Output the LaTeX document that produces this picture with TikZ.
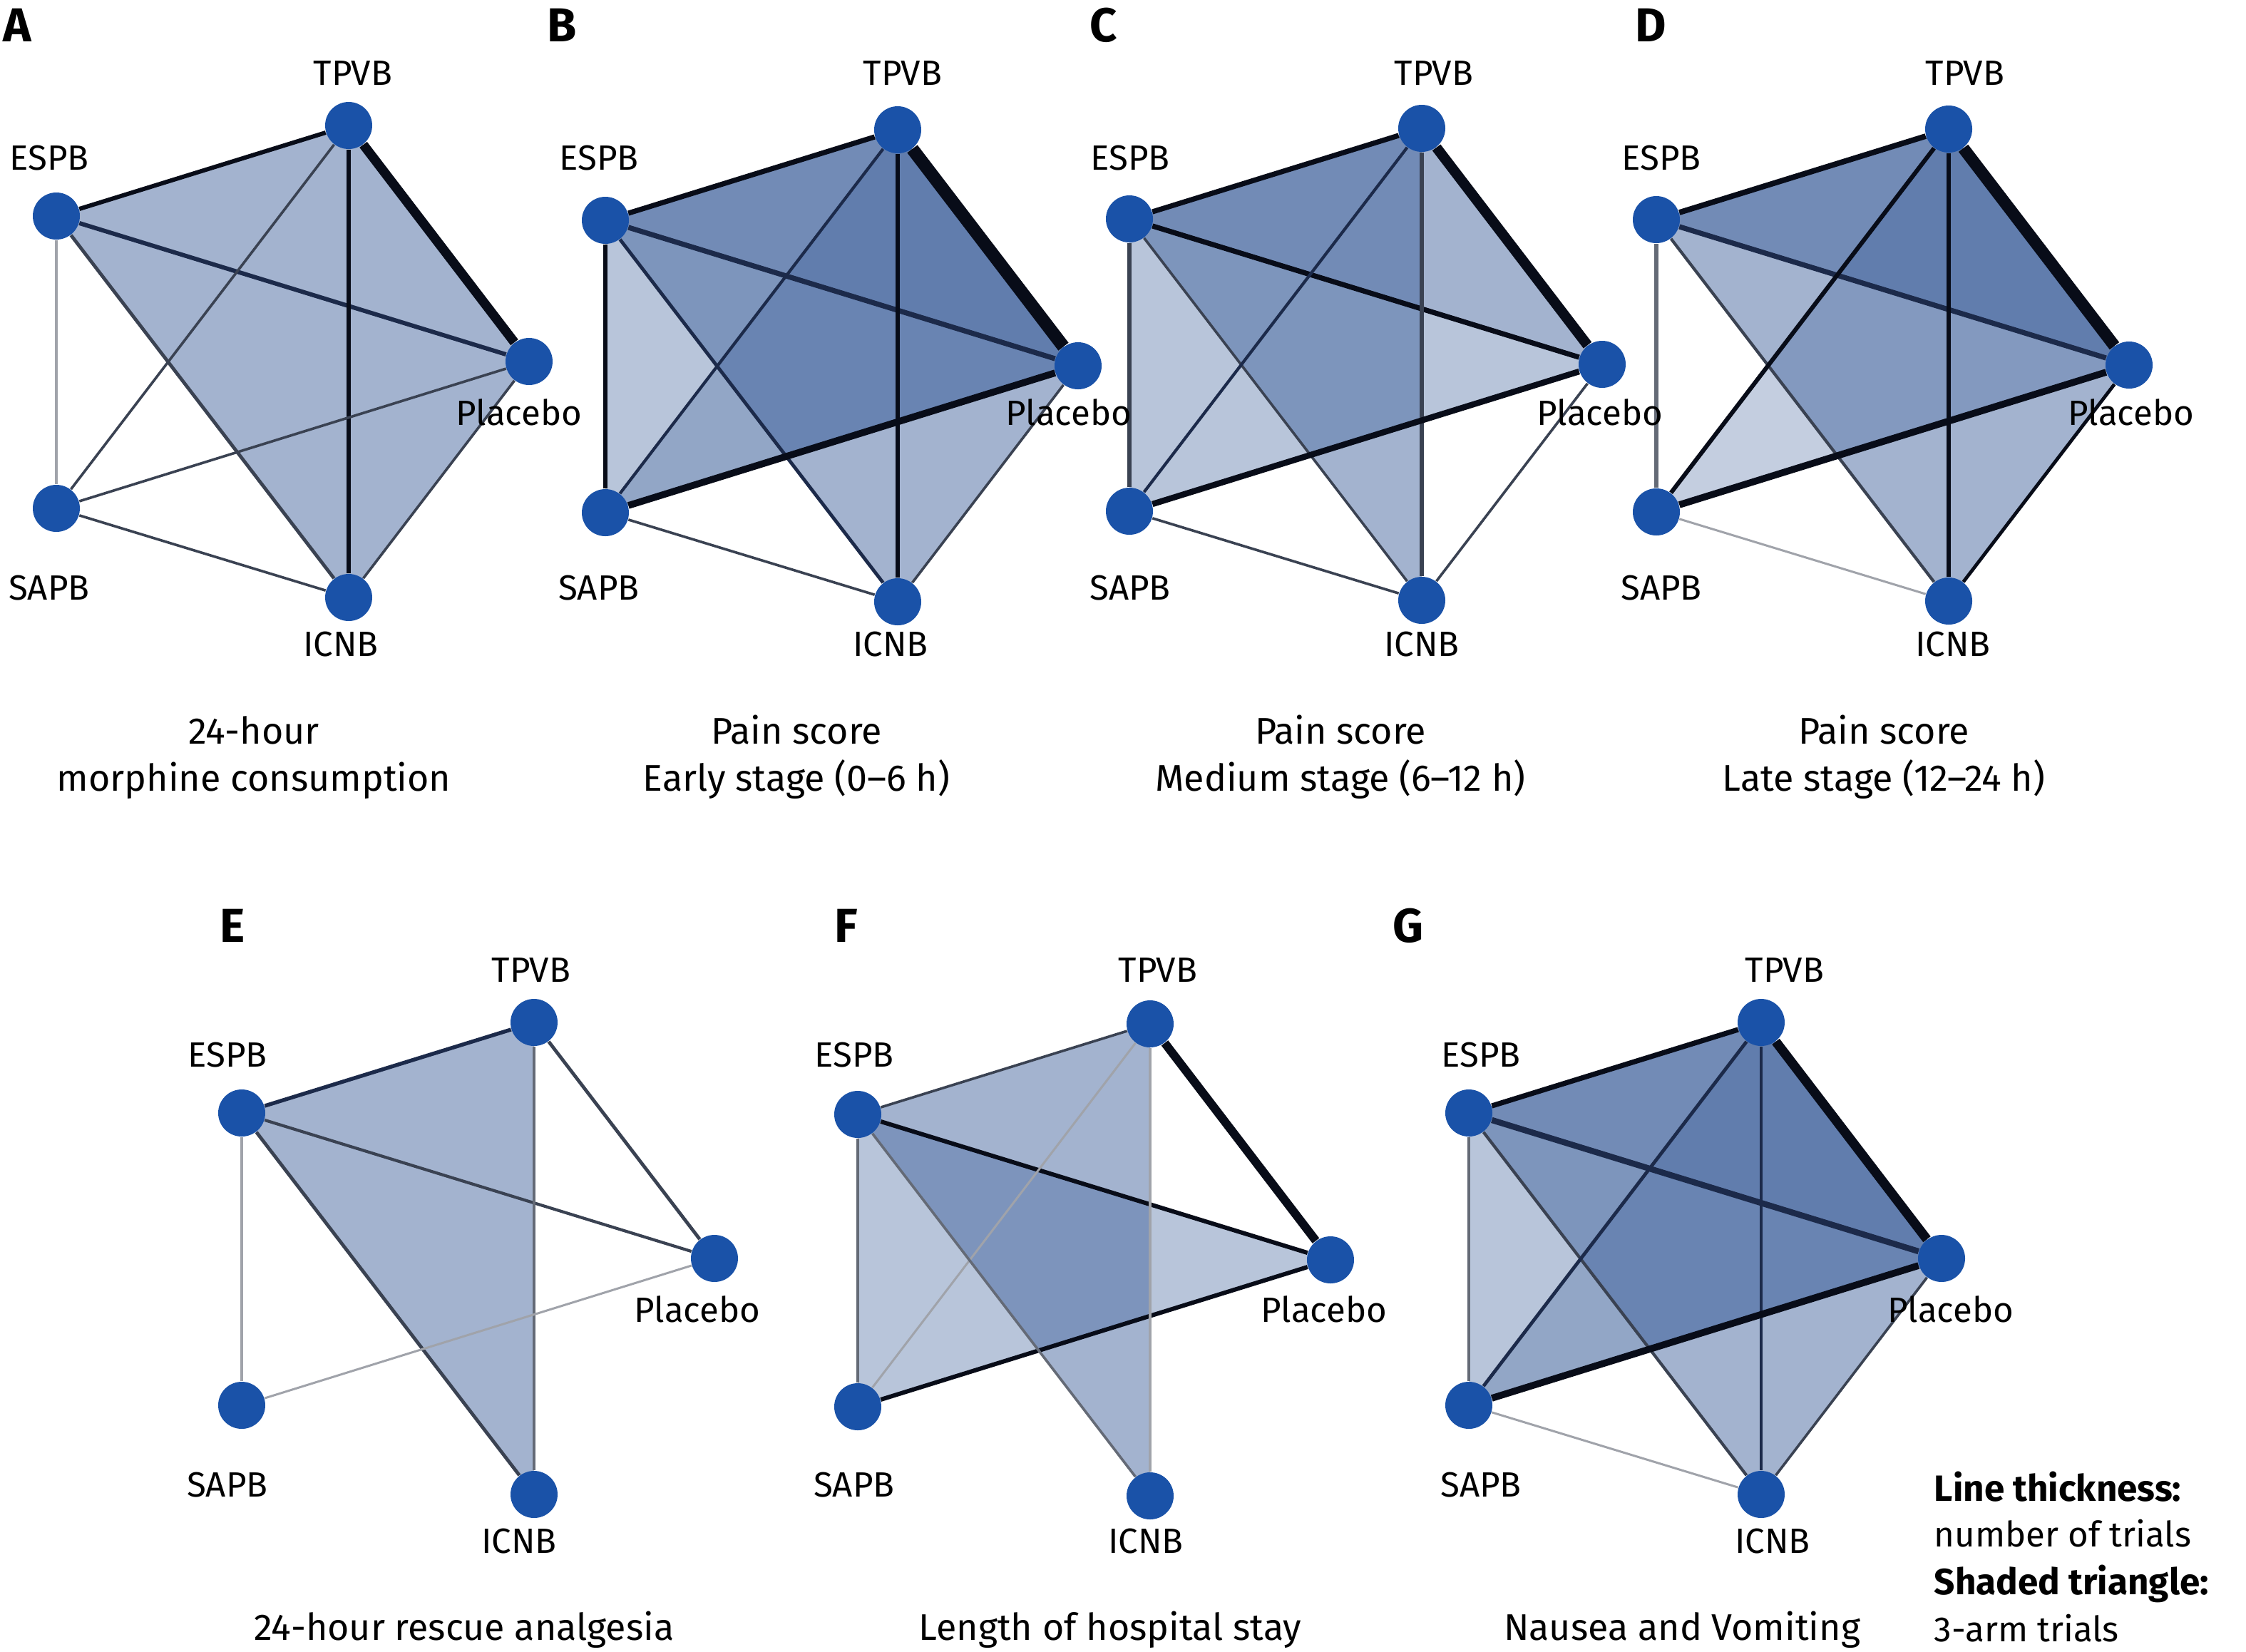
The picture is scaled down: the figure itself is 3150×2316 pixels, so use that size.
\documentclass[tikz,border=0pt]{standalone}
\usepackage{fontspec}
\setmainfont{Fira Sans}
\definecolor{nodeblue}{RGB}{26,82,168}
\definecolor{tribase}{RGB}{60,95,155}
\definecolor{ek}{RGB}{8,12,24}
\definecolor{en}{RGB}{28,42,74}
\definecolor{es}{RGB}{58,66,82}
\definecolor{eg}{RGB}{100,106,118}
\definecolor{el}{RGB}{160,163,170}
\pgfdeclarelayer{tri}
\pgfdeclarelayer{edges}
\pgfsetlayers{tri,edges,main}
\tikzset{
  bnode/.style={circle, fill=nodeblue, draw=none, inner sep=0pt, minimum size=16.5pt},
  lbl/.style={anchor=base, inner sep=0pt, font=\fontsize{12.3}{14}\selectfont},
  capt/.style={anchor=base, inner sep=0pt, font=\fontsize{13}{15}\selectfont},
  letter/.style={anchor=base, inner sep=0pt, font=\fontsize{16.7}{18}\selectfont\bfseries},
  leg/.style={anchor=base west, inner sep=0pt, font=\fontsize{12.3}{14}\selectfont},
  legb/.style={leg, font=\fontsize{12.8}{14}\selectfont\bfseries},
  edge/.style 2 args={draw=#2, line width=#1*0.3pt},
  shade/.style={fill=tribase, fill opacity=#1}
}
\newcommand\pnodes[3]{%
  \node[bnode] (#1E) at (#2,#3) {};
  \node[bnode] (#1T) at (#2+410,#3-127) {};
  \node[bnode] (#1P) at (#2+663,#3+204) {};
  \node[bnode] (#1S) at (#2,#3+410) {};
  \node[bnode] (#1I) at (#2+410,#3+535) {};
}
\newcommand\plabels[4]{%
  \node[lbl] (#1Tl) at (#2+416+#4,#3-184) {TPVB};
  \node[lbl] (#1El) at (#2-10+#4,#3-65) {ESPB};
  \node[lbl] (#1Pl) at (#2+649+#4,#3+293) {Placebo};
  \node[lbl] (#1Sl) at (#2-10+#4,#3+538) {SAPB};
  \node[lbl] (#1Il) at (#2+399+#4,#3+617) {ICNB};
}
\newcommand\ptri[5]{\fill[shade=#5] (#1#2.center) -- (#1#3.center) -- (#1#4.center) -- cycle;}
\newcommand\ped[5]{\draw[edge={#4}{#5}] (#1#2) -- (#1#3);}
\begin{document}
\begin{tikzpicture}[x=0.25pt,y=-0.25pt]
\useasboundingbox (0,0) rectangle (3150,2316);
% nodes
\pnodes{A}{79}{303}
\pnodes{B}{849}{309}
\pnodes{C}{1584}{307}
\pnodes{D}{2323}{308}
\pnodes{E}{339}{1561}
\pnodes{F}{1203}{1563}
\pnodes{G}{2060}{1561}
% node labels
\plabels{A}{79}{303}{0}
\plabels{B}{849}{303}{1}
\plabels{C}{1584}{303}{11}
\plabels{D}{2323}{303}{17}
\plabels{E}{339}{1561}{-10}
\plabels{F}{1203}{1561}{5}
\plabels{G}{2060}{1561}{27}
% panel letters
\node[letter] (LA) at (24,58) {A};
\node[letter] (LB) at (788,58) {B};
\node[letter] (LC) at (1548,58) {C};
\node[letter] (LD) at (2315,58) {D};
\node[letter] (LE) at (326,1321) {E};
\node[letter] (LF) at (1187,1321) {F};
\node[letter] (LG) at (1975,1321) {G};
% captions
\node[capt] (cA1) at (356,1043) {24-hour};
\node[capt] (cA2) at (356,1109) {morphine consumption};
\node[capt] (cB1) at (1117,1043) {Pain score};
\node[capt] (cB2) at (1117,1109) {Early stage (0–6 h)};
\node[capt] (cC1) at (1880,1043) {Pain score};
\node[capt] (cC2) at (1880,1109) {Medium stage (6–12 h)};
\node[capt] (cD1) at (2642,1043) {Pain score};
\node[capt] (cD2) at (2642,1109) {Late stage (12–24 h)};
\node[capt] (cE) at (651,2300) {24-hour rescue analgesia};
\node[capt] (cF) at (1557,2300) {Length of hospital stay};
\node[capt] (cG) at (2359,2300) {Nausea and Vomiting};
% legend
\node[legb] (lg1) at (2712,2105) {Line thickness:};
\node[leg] (lg2) at (2712,2169) {number of trials};
\node[legb] (lg3) at (2712,2236) {Shaded triangle:};
\node[leg] (lg4) at (2712,2302) {3-arm trials};
% shaded triangles
\begin{pgfonlayer}{tri}
\fill[white] (0,0) rectangle (3150,2316);
\ptri{A}{E}{T}{I}{0.47}
\ptri{A}{T}{P}{I}{0.47}
\ptri{B}{E}{S}{P}{0.36}
\ptri{B}{E}{T}{P}{0.47}
\ptri{B}{E}{T}{I}{0.47}
\ptri{B}{T}{P}{I}{0.47}
\ptri{B}{S}{T}{P}{0.30}
\ptri{C}{E}{S}{P}{0.36}
\ptri{C}{E}{T}{P}{0.47}
\ptri{C}{E}{T}{I}{0.47}
\ptri{D}{E}{T}{P}{0.47}
\ptri{D}{E}{T}{I}{0.47}
\ptri{D}{T}{P}{I}{0.47}
\ptri{D}{S}{T}{P}{0.30}
\ptri{E}{E}{T}{I}{0.47}
\ptri{F}{E}{T}{I}{0.47}
\ptri{F}{E}{S}{P}{0.36}
\ptri{G}{E}{S}{P}{0.36}
\ptri{G}{E}{T}{P}{0.47}
\ptri{G}{E}{T}{I}{0.47}
\ptri{G}{T}{P}{I}{0.47}
\ptri{G}{S}{T}{P}{0.30}
\end{pgfonlayer}
% edges
\begin{pgfonlayer}{edges}
% A
\ped{A}{E}{T}{5}{ek}
\ped{A}{T}{P}{11}{ek}
\ped{A}{P}{I}{3}{es}
\ped{A}{I}{S}{3}{es}
\ped{A}{S}{E}{3}{el}
\ped{A}{E}{P}{5}{en}
\ped{A}{E}{I}{4}{es}
\ped{A}{S}{T}{3}{es}
\ped{A}{T}{I}{5}{ek}
\ped{A}{S}{P}{3}{es}
% B
\ped{B}{E}{T}{6}{ek}
\ped{B}{T}{P}{15}{ek}
\ped{B}{P}{I}{3}{es}
\ped{B}{I}{S}{3}{es}
\ped{B}{S}{E}{5}{ek}
\ped{B}{E}{P}{6}{en}
\ped{B}{E}{I}{4}{en}
\ped{B}{S}{T}{3.5}{en}
\ped{B}{T}{I}{4.5}{ek}
\ped{B}{S}{P}{8}{ek}
% C
\ped{C}{E}{T}{6}{ek}
\ped{C}{T}{P}{12}{ek}
\ped{C}{P}{I}{3}{es}
\ped{C}{I}{S}{3}{es}
\ped{C}{S}{E}{5}{es}
\ped{C}{E}{P}{6}{ek}
\ped{C}{E}{I}{3}{es}
\ped{C}{S}{T}{3.5}{en}
\ped{C}{T}{I}{5}{es}
\ped{C}{S}{P}{7}{ek}
% D
\ped{D}{E}{T}{6.5}{ek}
\ped{D}{T}{P}{14}{ek}
\ped{D}{P}{I}{4}{ek}
\ped{D}{I}{S}{2.5}{el}
\ped{D}{S}{E}{5}{eg}
\ped{D}{E}{P}{6}{en}
\ped{D}{E}{I}{3.5}{es}
\ped{D}{S}{T}{5}{ek}
\ped{D}{T}{I}{4.5}{ek}
\ped{D}{S}{P}{8}{ek}
% E
\ped{E}{E}{T}{4.5}{en}
\ped{E}{T}{P}{4}{es}
\ped{E}{E}{P}{3.5}{es}
\ped{E}{E}{I}{4}{es}
\ped{E}{T}{I}{3}{eg}
\ped{E}{S}{E}{3}{el}
\ped{E}{S}{P}{2.5}{el}
% F
\ped{F}{E}{T}{3}{es}
\ped{F}{T}{P}{10}{ek}
\ped{F}{E}{P}{5}{ek}
\ped{F}{S}{P}{5}{ek}
\ped{F}{S}{T}{2.5}{el}
\ped{F}{E}{I}{3}{eg}
\ped{F}{S}{E}{3}{eg}
\ped{F}{T}{I}{3}{el}
% G
\ped{G}{E}{T}{6}{ek}
\ped{G}{T}{P}{11}{ek}
\ped{G}{P}{I}{3}{es}
\ped{G}{I}{S}{2.5}{el}
\ped{G}{S}{E}{3}{eg}
\ped{G}{E}{P}{7}{en}
\ped{G}{E}{I}{3.5}{es}
\ped{G}{S}{T}{4}{en}
\ped{G}{T}{I}{4}{en}
\ped{G}{S}{P}{8}{ek}
\end{pgfonlayer}
\end{tikzpicture}
\end{document}
